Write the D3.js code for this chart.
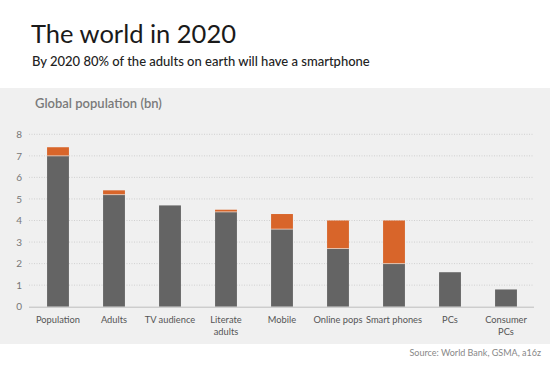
<!DOCTYPE html>
<html>
<head>
<meta charset="utf-8">
<script src="https://cdn.jsdelivr.net/npm/d3@7"></script>
<style>
  body { margin: 0; background: #fff; }
  svg { display: block; font-family: Lato, "Open Sans", sans-serif; }
</style>
</head>
<body>
<svg id="chart" width="550" height="367"></svg>
<script>
// données du graphique
const categories = ['Population', 'Adults', 'TV audience', 'Literate adults', 'Mobile', 'Online pops', 'Smart phones', 'PCs', 'Consumer PCs']
const labelLines = [['Population'], ['Adults'], ['TV audience'], ['Literate', 'adults'], ['Mobile'], ['Online pops'], ['Smart phones'], ['PCs'], ['Consumer', 'PCs']]
const today = [7.0, 5.2, 4.7, 4.4, 3.6, 2.7, 2.0, 1.6, 0.8]
const total2020 = [7.4, 5.4, 4.7, 4.5, 4.3, 4.0, 4.0, 1.6, 0.8]
const yTicks = [0, 1, 2, 3, 4, 5, 6, 7, 8]

const svg = d3.select('#chart')

// fond gris du graphique
svg.append('rect').attr('x', 0).attr('y', 88).attr('width', 550).attr('height', 256).attr('fill', '#f0f0f0')

// titres
svg.append('text').attr('x', 31).attr('y', 43).text('The world in 2020')
   .attr('font-size', 25.5).attr('fill', '#1a1a1a')
svg.append('text').attr('x', 32).attr('y', 66).text('By 2020 80% of the adults on earth will have a smartphone')
   .attr('font-size', 13).attr('font-weight', 500).attr('fill', '#222')
svg.append('text').attr('x', 35).attr('y', 108).text('Global population (bn)')
   .attr('font-size', 13).attr('font-weight', 600).attr('fill', '#7a7a7a')

// échelles
const x = d3.scaleBand().domain(categories).range([30, 534]).paddingInner(0.61).paddingOuter(0.305)
const y = d3.scaleLinear().domain([0, 8]).range([306.7, 134.3])

// grille pointillée
svg.append('g').selectAll('line').data(yTicks.slice(1)).join('line')
   .attr('x1', 29).attr('x2', 534)
   .attr('y1', d => y(d)).attr('y2', d => y(d))
   .attr('stroke', '#c8c8c8').attr('stroke-width', 0.8).attr('stroke-dasharray', '1,1.5')

// axe des y
const yAxis = svg.append('g').attr('transform', 'translate(22,0)')
   .call(d3.axisLeft(y).tickValues(yTicks).tickSize(0).tickPadding(0))
yAxis.select('.domain').remove()
yAxis.selectAll('text').attr('font-size', 10).attr('fill', '#777').attr('font-family', 'Lato, sans-serif')

// barres
const bars = svg.append('g')
bars.selectAll('.orange').data(categories).join('rect')
   .attr('class', 'orange')
   .attr('x', d => x(d)).attr('width', x.bandwidth())
   .attr('y', (d, i) => y(total2020[i]))
   .attr('height', (d, i) => y(today[i]) - y(total2020[i]))
   .attr('fill', '#d8652a')
bars.selectAll('.gris').data(categories).join('rect')
   .attr('class', 'gris')
   .attr('x', d => x(d)).attr('width', x.bandwidth())
   .attr('y', (d, i) => y(today[i]))
   .attr('height', (d, i) => y(0) - y(today[i]))
   .attr('fill', '#646464')
bars.selectAll('.sep').data(categories.filter((d, i) => total2020[i] > today[i])).join('line')
   .attr('class', 'sep')
   .attr('x1', d => x(d)).attr('x2', d => x(d) + x.bandwidth())
   .attr('y1', d => y(today[categories.indexOf(d)])).attr('y2', d => y(today[categories.indexOf(d)]))
   .attr('stroke', '#f3d0bd').attr('stroke-width', 0.8)

// ligne de base
svg.append('line').attr('x1', 29).attr('x2', 534).attr('y1', y(0) + 0.5).attr('y2', y(0) + 0.5)
   .attr('stroke', '#bdbdbd').attr('stroke-width', 1)

// étiquettes des catégories
const xl = svg.append('g').selectAll('text').data(categories).join('text')
   .attr('x', d => x(d) + x.bandwidth() / 2)
   .attr('y', 323)
   .attr('text-anchor', 'middle')
   .attr('font-size', 9.3).attr('fill', '#555')
xl.each(function (d, i) {
  d3.select(this).selectAll('tspan').data(labelLines[i]).join('tspan')
    .attr('x', x(d) + x.bandwidth() / 2)
    .attr('dy', (t, j) => j === 0 ? 0 : 11.5)
    .text(t => t)
})

// source
svg.append('text').attr('x', 541).attr('y', 356).attr('text-anchor', 'end')
   .text('Source: World Bank, GSMA, a16z').attr('font-size', 9).attr('fill', '#888')
</script>
</body>
</html>
